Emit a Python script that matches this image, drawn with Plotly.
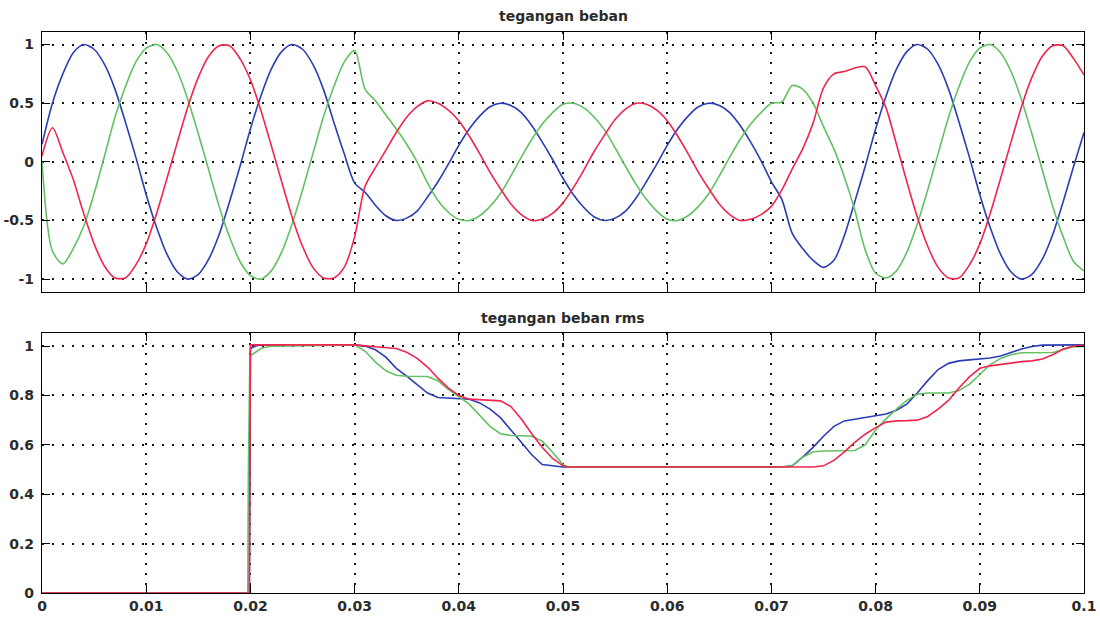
import plotly.graph_objects as go

# ---------------------------------------------------------------------------
# Sampling grid for the instantaneous load voltage (milliseconds, 1 ms step)
# ---------------------------------------------------------------------------
t_ms = list(range(0, 101))

# Instantaneous three-phase load voltage (per unit)
v_blue = [
    0.15, 0.50, 0.75, 0.93, 1.00, 0.96, 0.83, 0.62, 0.34, 0.04,
    -0.28, -0.56, -0.79, -0.94, -1.00, -0.96, -0.83, -0.62, -0.34, -0.04,
    0.28, 0.56, 0.79, 0.94, 1.00, 0.96, 0.83, 0.62, 0.34, 0.07,
    -0.18, -0.26, -0.37, -0.46, -0.50, -0.48, -0.42, -0.30, -0.17, -0.02,
    0.14, 0.28, 0.39, 0.47, 0.50, 0.48, 0.42, 0.31, 0.17, 0.02,
    -0.14, -0.28, -0.39, -0.47, -0.50, -0.48, -0.42, -0.31, -0.17, -0.02,
    0.14, 0.28, 0.39, 0.47, 0.50, 0.48, 0.42, 0.31, 0.17, 0.01,
    -0.17, -0.32, -0.61, -0.74, -0.84, -0.90, -0.84, -0.63, -0.34, -0.04,
    0.28, 0.56, 0.79, 0.94, 1.00, 0.96, 0.83, 0.62, 0.34, 0.04,
    -0.28, -0.56, -0.79, -0.94, -1.00, -0.96, -0.83, -0.62, -0.34, -0.04,
    0.25,
]
v_green = [
    0.00, -0.76, -0.87, -0.74, -0.55, -0.27, 0.05, 0.38, 0.64, 0.85,
    0.97, 1.00, 0.93, 0.77, 0.53, 0.24, -0.07, -0.38, -0.64, -0.85,
    -0.97, -1.00, -0.93, -0.77, -0.53, -0.24, 0.07, 0.38, 0.64, 0.85,
    0.95, 0.62, 0.52, 0.40, 0.28, 0.15, 0.00, -0.18, -0.33, -0.43,
    -0.49, -0.50, -0.46, -0.38, -0.27, -0.12, 0.04, 0.19, 0.32, 0.42,
    0.49, 0.50, 0.46, 0.38, 0.27, 0.12, -0.04, -0.19, -0.32, -0.42,
    -0.49, -0.50, -0.46, -0.38, -0.27, -0.12, 0.04, 0.19, 0.32, 0.42,
    0.50, 0.51, 0.65, 0.62, 0.50, 0.30, 0.11, -0.13, -0.41, -0.75,
    -0.95, -0.99, -0.93, -0.77, -0.53, -0.24, 0.07, 0.38, 0.64, 0.85,
    0.97, 1.00, 0.93, 0.77, 0.53, 0.24, -0.07, -0.38, -0.64, -0.85,
    -0.93,
]
v_red = [
    0.05, 0.29, 0.08, -0.15, -0.44, -0.70, -0.89, -0.99, -0.99, -0.88,
    -0.70, -0.44, -0.14, 0.17, 0.47, 0.72, 0.90, 0.99, 0.99, 0.88,
    0.70, 0.44, 0.14, -0.17, -0.47, -0.72, -0.90, -0.99, -0.99, -0.90,
    -0.64, -0.21, -0.05, 0.10, 0.25, 0.38, 0.47, 0.52, 0.50, 0.44,
    0.35, 0.22, 0.07, -0.09, -0.23, -0.36, -0.45, -0.50, -0.49, -0.44,
    -0.35, -0.22, -0.07, 0.09, 0.23, 0.36, 0.45, 0.50, 0.49, 0.44,
    0.35, 0.22, 0.07, -0.09, -0.23, -0.36, -0.45, -0.50, -0.49, -0.45,
    -0.38, -0.24, -0.06, 0.11, 0.33, 0.63, 0.75, 0.77, 0.80, 0.81,
    0.65, 0.46, 0.15, -0.17, -0.47, -0.72, -0.90, -0.99, -0.99, -0.88,
    -0.70, -0.44, -0.14, 0.17, 0.47, 0.72, 0.90, 0.99, 0.99, 0.88,
    0.74,
]

# ---------------------------------------------------------------------------
# RMS load voltage (per unit), each phase on its own time base (ms)
# ---------------------------------------------------------------------------
t_rms_blue = [0, 19.9, 20.0, 20.5, 21, 30,
              31, 32, 33, 34, 35, 36, 37, 38, 39, 40,
              41, 42, 43, 44, 45, 46, 47, 48, 49, 50,
              71, 72, 73, 74, 75, 76, 77, 78, 79, 80,
              81, 82, 83, 84, 85, 86, 87, 88, 89, 90,
              91, 92, 93, 94, 95, 96, 100]
rms_blue = [0, 0, 0.99, 1.0, 1.005, 1.005,
            1.0, 0.985, 0.955, 0.91, 0.878, 0.845, 0.81, 0.792, 0.79, 0.79,
            0.785, 0.77, 0.745, 0.71, 0.66, 0.61, 0.56, 0.52, 0.515, 0.51,
            0.51, 0.515, 0.55, 0.59, 0.635, 0.675, 0.697, 0.705, 0.71, 0.718,
            0.725, 0.74, 0.765, 0.81, 0.86, 0.905, 0.93, 0.94, 0.944, 0.947,
            0.952, 0.96, 0.975, 0.988, 0.998, 1.004, 1.005]

t_rms_green = [0, 19.75, 19.8, 19.95, 20.5, 21, 22, 30,
               31, 32, 33, 34, 35, 36, 37, 38, 39, 40,
               41, 42, 43, 44, 45, 46, 47, 48, 49, 50, 50.5,
               71, 72, 73, 74, 75, 76, 77, 78, 79, 80,
               81, 82, 83, 84, 85, 86, 87, 88, 89, 90,
               91, 92, 93, 94, 95, 96, 97, 98, 99, 100]
rms_green = [0, 0, 0.47, 0.96, 0.975, 0.99, 1.0, 1.005,
             0.98, 0.935, 0.90, 0.882, 0.878, 0.877, 0.877, 0.86, 0.825, 0.795,
             0.765, 0.72, 0.675, 0.645, 0.638, 0.637, 0.635, 0.615, 0.57, 0.52, 0.51,
             0.51, 0.515, 0.55, 0.572, 0.575, 0.575, 0.575, 0.577, 0.60, 0.66,
             0.705, 0.745, 0.78, 0.805, 0.81, 0.81, 0.81, 0.82, 0.845, 0.885,
             0.925, 0.95, 0.965, 0.973, 0.974, 0.974, 0.974, 0.985, 0.997, 1.0]

t_rms_red = [0, 19.9, 20.0, 30, 32.5, 34,
             35, 36, 37, 38, 39, 40, 41, 42, 43, 44,
             45, 46, 47, 48, 49, 50, 50.5, 74,
             75, 76, 77, 78, 79, 80, 81, 82, 83, 84,
             85, 86, 87, 88, 89, 90, 91, 92, 93, 94,
             95, 96, 97, 98, 99, 100]
rms_red = [0, 0, 1.005, 1.005, 0.995, 0.99,
           0.975, 0.95, 0.915, 0.87, 0.83, 0.80, 0.785, 0.783, 0.782, 0.778,
           0.755, 0.705, 0.645, 0.59, 0.545, 0.515, 0.51, 0.51,
           0.515, 0.537, 0.572, 0.61, 0.643, 0.67, 0.692, 0.697, 0.698, 0.70,
           0.715, 0.745, 0.78, 0.83, 0.875, 0.91, 0.92, 0.926, 0.932, 0.937,
           0.94, 0.948, 0.965, 0.988, 1.0, 1.003]

# Axis ticks
x_ticks = [0, 0.01, 0.02, 0.03, 0.04, 0.05, 0.06, 0.07, 0.08, 0.09, 0.1]
x_tick_text = ["0", "0.01", "0.02", "0.03", "0.04", "0.05",
               "0.06", "0.07", "0.08", "0.09", "0.1"]
y1_ticks = [-1, -0.5, 0, 0.5, 1]
y1_tick_text = ["-1", "-0.5", "0", "0.5", "1"]
y2_ticks = [0, 0.2, 0.4, 0.6, 0.8, 1]
y2_tick_text = ["0", "0.2", "0.4", "0.6", "0.8", "1"]

titles = ["tegangan beban", "tegangan beban rms"]

# ---------------------------------------------------------------------------
BLUE = "#2b3db4"
GREEN = "#63c063"
RED = "#f0264c"
LW = 1.6


def sec(ms_list):
    return [m / 1000.0 for m in ms_list]


fig = go.Figure()

t_top = sec(t_ms)
for vals, col in ((v_blue, BLUE), (v_green, GREEN), (v_red, RED)):
    fig.add_trace(go.Scatter(
        x=t_top, y=vals, mode="lines",
        line=dict(color=col, width=LW, shape="spline", smoothing=0.8),
        xaxis="x", yaxis="y", showlegend=False, hoverinfo="skip"))

for tt, vals, col in ((t_rms_blue, rms_blue, BLUE),
                      (t_rms_green, rms_green, GREEN),
                      (t_rms_red, rms_red, RED)):
    fig.add_trace(go.Scatter(
        x=sec(tt), y=vals, mode="lines",
        line=dict(color=col, width=LW),
        xaxis="x2", yaxis="y2", showlegend=False, hoverinfo="skip"))

tick_font = dict(family="DejaVu Sans", size=14, color="#2b2b2b", weight="bold")

axis_common = dict(
    showline=True, linecolor="black", linewidth=1.4, mirror="allticks",
    ticks="inside", ticklen=8, tickwidth=1.4, tickcolor="black",
    showgrid=True, gridcolor="#1a1a1a", gridwidth=1.5, griddash="2px,8px",
    zeroline=False, tickfont=tick_font, fixedrange=True, automargin=False,
)

H, T, B = 617, 32, 24
plot_h = H - T - B
top_dom = [(593 - 292) / plot_h, 1.0]
bot_dom = [0.0, (593 - 333) / plot_h]

fig.update_layout(
    width=1100, height=617,
    margin=dict(l=42, r=16, t=T, b=B),
    paper_bgcolor="white", plot_bgcolor="white",
    xaxis=dict(axis_common, domain=[0, 1], anchor="y", range=[0, 0.1],
               tickvals=x_ticks, showticklabels=False),
    yaxis=dict(axis_common, domain=top_dom, anchor="x", range=[-1.11, 1.107],
               tickvals=y1_ticks, ticktext=y1_tick_text, ticklabelstandoff=4),
    xaxis2=dict(axis_common, domain=[0, 1], anchor="y2", range=[0, 0.1],
                tickvals=x_ticks, ticktext=x_tick_text),
    yaxis2=dict(axis_common, domain=bot_dom, anchor="x2", range=[0, 1.053],
                tickvals=y2_ticks, ticktext=y2_tick_text, ticklabelstandoff=4),
)

title_font = dict(family="DejaVu Sans", size=14, color="#2b2b2b", weight="bold")
for text, ypix in zip(titles, (16, 318)):
    fig.add_annotation(
        text=text, xref="paper", yref="paper",
        x=0.5, y=(593 - ypix) / plot_h, xanchor="center", yanchor="middle",
        showarrow=False, font=title_font)

fig.write_html("out.html")
